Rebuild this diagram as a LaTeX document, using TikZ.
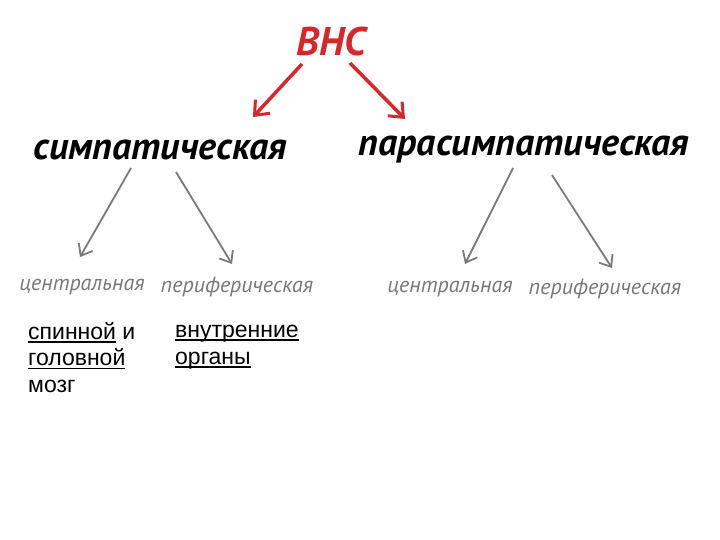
\documentclass[tikz,border=0pt]{standalone}
\usepackage{fontspec}
\setmainfont{Liberation Sans}
\newfontfamily\hand{PT Sans}
\usetikzlibrary{arrows.meta}
\definecolor{vnsred}{HTML}{D8262B}
\definecolor{graytxt}{HTML}{777777}
\definecolor{grayarr}{HTML}{7A7A7A}
\newcommand\ulx[1]{\setbox0\hbox{#1}\leavevmode\rlap{\rule[-3.5pt]{\wd0}{1.6pt}}\box0\relax}
\tikzset{
  x=1pt, y=-1pt,
  title/.style={font=\hand\bfseries\itshape\fontsize{40}{40}\selectfont, text=vnsred, inner sep=0pt},
  branch/.style={font=\hand\bfseries\itshape\fontsize{38}{38}\selectfont, text=black, inner sep=0pt},
  leaf/.style={font=\hand\itshape\fontsize{22}{22}\selectfont, text=graytxt, inner sep=0pt},
  body/.style={font=\fontsize{23}{26.5}\selectfont, align=left, anchor=north west, inner sep=0pt},
  redarrow/.style={draw=vnsred, line width=3.5pt, -{Straight Barb[length=12pt,width=20pt,line width=3pt]}},
  grayarrow/.style={draw=grayarr, line width=1.8pt, -{Straight Barb[length=10pt,width=16pt,line width=1.8pt]}}
}
\begin{document}
\begin{tikzpicture}
\useasboundingbox (0,0) rectangle (720,540);
\fill[white] (0,0) rectangle (720,540);
\node[title] (vns) at (331,42) {ВНС};
\node[branch] (symp) at (160,150) {симпатическая};
\node[branch] (para) at (524,150) {парасимпатическая};
\node[leaf] (c1) at (82,287) {центральная};
\node[leaf] (p1) at (237,287) {периферическая};
\node[leaf] (c2) at (450,289) {центральная};
\node[leaf] (p2) at (605,289) {периферическая};
\node[body] (t1) at (28,322) {\ulx{спинной} и\\\ulx{головной}\\мозг};
\node[body] (t2) at (175,325) {\ulx{внутренние}\\\ulx{органы}};
\coordinate (r1s) at (302,64); \coordinate (r1e) at (253,117);
\coordinate (r2s) at (350,63); \coordinate (r2e) at (405,119);
\draw[redarrow] (r1s) -- (r1e);
\draw[redarrow] (r2s) -- (r2e);
\coordinate (g1s) at (131,168); \coordinate (g1e) at (80,257);
\coordinate (g2s) at (176,172); \coordinate (g2e) at (232,264);
\coordinate (g3s) at (513,168); \coordinate (g3e) at (465,264);
\coordinate (g4s) at (552,175); \coordinate (g4e) at (612,268);
\draw[grayarrow] (g1s) -- (g1e);
\draw[grayarrow] (g2s) -- (g2e);
\draw[grayarrow] (g3s) -- (g3e);
\draw[grayarrow] (g4s) -- (g4e);
\end{tikzpicture}
\end{document}
